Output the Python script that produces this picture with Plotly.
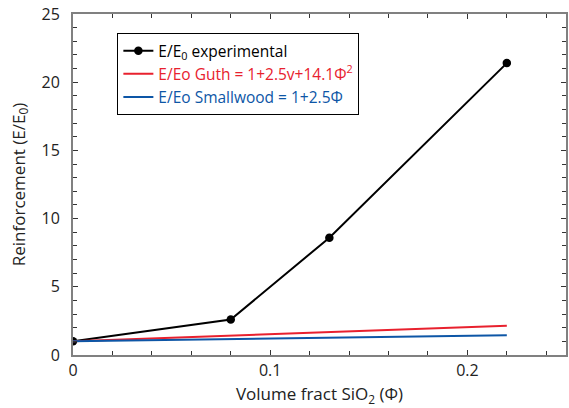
import plotly.graph_objects as go

exp_x = [0, 0.08, 0.13, 0.22]
exp_y = [1.0, 2.6, 8.6, 21.4]
guth_x = [0, 0.22]
guth_y = [1.0, 2.15]
small_x = [0, 0.22]
small_y = [1.0, 1.45]

FONT = "Open Sans"

fig = go.Figure()
fig.add_trace(go.Scatter(x=exp_x, y=exp_y, mode="lines+markers",
                         line=dict(color="black", width=2),
                         marker=dict(color="black", size=8.5),
                         name="E/E<sub>0</sub> experimental"))
fig.add_trace(go.Scatter(x=guth_x, y=guth_y, mode="lines",
                         line=dict(color="#e8212e", width=2),
                         name="<span style='color:#e8212e'>E/Eo Guth = 1+2.5v+14.1Φ<sup>2</sup></span>"))
fig.add_trace(go.Scatter(x=small_x, y=small_y, mode="lines",
                         line=dict(color="#0d56a6", width=2),
                         name="<span style='color:#0d56a6'>E/Eo Smallwood = 1+2.5Φ</span>"))

axis_common = dict(showline=True, linecolor="#808080", linewidth=2, mirror="allticks",
                   ticks="inside", tickcolor="#333", ticklen=5, tickwidth=1,
                   showgrid=False, zeroline=False, automargin=False,
                   tickfont=dict(family=FONT, size=16, color="#222"))

fig.update_xaxes(range=[0, 0.25], tickvals=[0, 0.1, 0.2], ticktext=["0", "0.1", "0.2"],
                 minor=dict(dtick=0.02, ticks="inside", ticklen=4, tickcolor="#333", showgrid=False),
                 title=dict(text="Volume fract SiO<sub>2</sub> (Φ)", font=dict(family=FONT, size=17, color="#222"), standoff=8),
                 **axis_common)
fig.update_yaxes(range=[0, 25], dtick=5, ticklabelstandoff=8,
                 minor=dict(dtick=1, ticks="inside", ticklen=4, tickcolor="#333", showgrid=False),
                 title=dict(text="Reinforcement (E/E<sub>0</sub>)", font=dict(family=FONT, size=17, color="#222"), standoff=12),
                 **axis_common)

fig.update_layout(
    width=569, height=408,
    margin=dict(l=73, r=3, t=14, b=53),
    plot_bgcolor="white", paper_bgcolor="white",
    font=dict(family=FONT, size=16, color="black"),
    legend=dict(x=0.09, y=0.944, xanchor="left", yanchor="top",
                bordercolor="black", borderwidth=1, bgcolor="white",
                font=dict(family=FONT, size=15.5), tracegroupgap=0,
                itemwidth=30),
)

fig.write_html("out.html", config={"displayModeBar": False},
               post_script="document.body.style.margin='0';document.body.style.padding='0';")
